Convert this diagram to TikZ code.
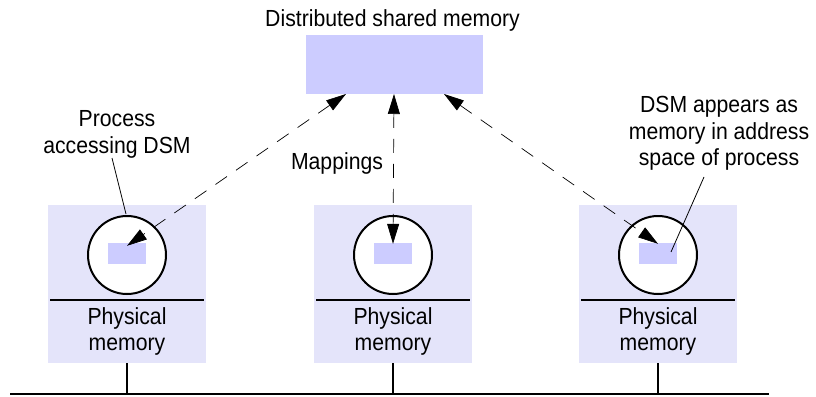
\documentclass[tikz,border=0pt]{standalone}
\usepackage{fontspec}
\setmainfont[FakeStretch=0.91]{Liberation Sans}
\usetikzlibrary{arrows.meta}
\definecolor{boxlight}{RGB}{228,228,250}
\definecolor{boxdark}{RGB}{204,204,255}
\tikzset{
  lbl/.style={font=\fontsize{23.3}{26.5}\selectfont, align=center, inner sep=0pt},
  hostbox/.style={fill=boxlight, draw=none, minimum width=158pt, minimum height=158pt, inner sep=0pt},
  proc/.style={circle, draw=black, line width=2pt, fill=white, minimum size=78pt, inner sep=0pt},
  dsmpiece/.style={fill=boxdark, draw=none, minimum width=38pt, minimum height=21pt, inner sep=0pt},
  mapping/.style={dash pattern=on 14pt off 11pt, line width=0.7pt,
    {Triangle[length=20pt,width=12pt]}-{Triangle[length=20pt,width=12pt]}},
  leader/.style={line width=0.8pt},
  thickline/.style={line width=2pt}
}
\begin{document}
\begin{tikzpicture}[x=1pt,y=-1pt]
\useasboundingbox (0,0) rectangle (816,396);
% DSM
\node[lbl, anchor=base] (title) at (392.5,27) {Distributed shared memory};
\node[fill=boxdark, minimum width=177pt, minimum height=59pt, inner sep=0pt] (dsm) at (394.5,64.5) {};
% hosts
\foreach \i/\x in {1/127, 2/393, 3/658} {
  \node[hostbox] (h\i) at (\x,284) {};
  \node[proc] (p\i) at (\x,255) {};
  \node[dsmpiece] (d\i) at (\x,253.5) {};
  \coordinate (la\i) at (\x-77,300);
  \coordinate (lb\i) at (\x+77,300);
  \draw[thickline] (la\i) -- (lb\i);
  \node[lbl, anchor=base] (pm\i) at (\x,324) {Physical};
  \node[lbl, anchor=base] (pn\i) at (\x,350) {memory};
  \coordinate (bt\i) at (\x,394);
  \draw[thickline] (h\i.south) -- (bt\i);
}
% bus
\coordinate (busl) at (10,394);
\coordinate (busr) at (769,394);
\draw[thickline] (busl) -- (busr);
% mapping arrows
\coordinate (t1) at (346,94);
\coordinate (t2) at (394,94);
\coordinate (t3) at (444,94);
\draw[mapping] (t1) -- ([yshift=-3pt]d1.north);
\draw[mapping] (t2) -- ([yshift=-1pt]d2.north);
\draw[mapping] (t3) -- ([yshift=-1pt]d3.north);
% labels
\node[lbl] (lp) at (117,134.5) {Process\\accessing DSM};
\coordinate (lp1) at (112,158);
\coordinate (lp2) at (126,214);
\draw[leader] (lp1) -- (lp2);
\node[lbl] (map) at (337,163) {Mappings};
\node[lbl] (ldsm) at (719,133.5) {DSM appears as\\memory in address\\space of process};
\coordinate (lq1) at (704,177);
\coordinate (lq2) at (671,252);
\draw[leader] (lq1) -- (lq2);
\end{tikzpicture}
\end{document}
